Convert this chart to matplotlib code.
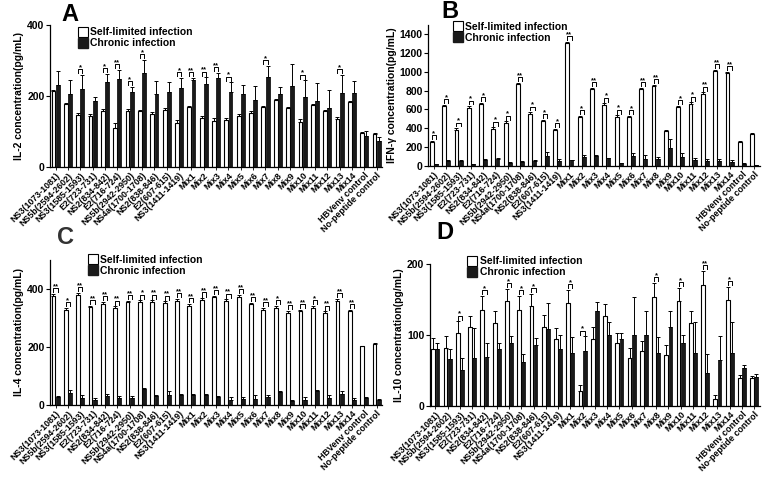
import numpy as np
import matplotlib
matplotlib.use("Agg")
import matplotlib.pyplot as plt
from matplotlib.lines import Line2D

plt.rcParams['font.family'] = ['Liberation Sans', 'DejaVu Sans']
plt.rcParams['font.weight'] = 'bold'

categories = ['NS3(1073-1081)', 'NS5b(2594-2602)', 'NS3(1585-1593)', 'E2(723-731)',
              'NS2(834-842)', 'E2(716-724)', 'NS5b(2942-2950)', 'NS4a(1700-1708)',
              'NS2(838-846)', 'E2(607-615)', 'NS3(1411-1419)',
              'Mix1', 'Mix2', 'Mix3', 'Mix4', 'Mix5', 'Mix6', 'Mix7', 'Mix8', 'Mix9',
              'Mix10', 'Mix11', 'Mix12', 'Mix13', 'Mix14',
              'HBVenv control', 'No-peptide control']

# ---------- IL-2 ----------
il2_self = [214, 177, 146, 144, 157, 109, 158, 156, 149, 161, 123, 168, 137, 130, 131,
            144, 153, 168, 188, 166, 127, 174, 156, 135, 184, 95, 93]
il2_self_err = [3, 3, 5, 5, 5, 15, 5, 5, 5, 5, 9, 3, 7, 7, 6, 5, 4, 3, 2, 3, 8, 3, 3, 6, 2, 4, 3]
il2_chronic = [230, 206, 218, 186, 238, 247, 212, 264, 206, 210, 222, 244, 234, 250, 210,
               206, 189, 254, 204, 229, 197, 186, 165, 207, 208, 87, 74]
il2_chronic_err = [41, 39, 41, 10, 24, 26, 13, 37, 36, 29, 28, 6, 18, 14, 28, 24, 38, 31,
                   20, 62, 47, 50, 52, 52, 33, 13, 11]
il2_stars = {2: '*', 4: '*', 5: '**', 6: '*', 7: '*', 10: '*', 11: '**', 12: '**',
             13: '**', 14: '*', 17: '*', 20: '*', 23: '*'}

# ---------- IFN-gamma ----------
ifn_self = [251, 634, 386, 620, 655, 396, 460, 867, 556, 478, 382, 1306, 517, 814, 651,
            524, 517, 814, 846, 368, 627, 662, 768, 1005, 988, 251, 336]
ifn_self_err = [15] * 27
ifn_chronic = [18, 53, 53, 21, 64, 78, 35, 46, 53, 106, 53, 60, 96, 103, 81, 32, 103, 74,
               74, 191, 96, 67, 57, 50, 39, 25, 11]
ifn_chronic_err = [3, 5, 5, 3, 5, 5, 3, 5, 5, 43, 25, 5, 24, 8, 5, 3, 39, 43, 22, 92, 46,
                   18, 17, 24, 25, 3, 2]
ifn_stars = {0: '*', 1: '*', 2: '*', 3: '*', 4: '*', 5: '*', 6: '*', 7: '**', 8: '*',
             9: '*', 10: '*', 11: '**', 12: '*', 13: '**', 14: '*', 15: '*', 16: '*',
             17: '**', 18: '**', 20: '*', 21: '*', 22: '**', 23: '**', 24: '**'}

# ---------- IL-4 ----------
il4_self = [377, 329, 381, 337, 349, 334, 354, 355, 355, 351, 359, 342, 362, 371, 358,
            374, 347, 329, 335, 318, 323, 335, 317, 360, 323, 202, 211]
il4_self_err = [6] * 25 + [2, 2]
il4_chronic = [26, 40, 24, 18, 31, 23, 24, 56, 30, 33, 35, 34, 35, 26, 18, 21, 21, 27,
               43, 14, 18, 49, 24, 37, 17, 24, 17]
il4_chronic_err = [3, 12, 10, 5, 8, 8, 8, 3, 5, 15, 4, 3, 3, 5, 10, 6, 12, 8, 4, 3, 8, 3,
                   10, 10, 8, 2, 2]
il4_stars = {i: '**' for i in range(25)}
il4_stars.update({1: '*', 7: '*', 18: '*', 21: '*'})

# ---------- IL-10 ----------
il10_self = [80, 82, 102, 111, 135, 116, 147, 135, 140, 111, 94, 145, 21, 94, 126, 89,
             68, 77, 154, 71, 147, 116, 170, 10, 149, 39, 39]
il10_self_err = [16, 17, 17, 16, 20, 17, 18, 20, 18, 17, 16, 18, 8, 17, 17, 14, 14, 15,
                 19, 15, 19, 17, 20, 5, 19, 4, 3]
il10_chronic = [80, 66, 51, 68, 69, 80, 88, 62, 86, 108, 80, 75, 77, 134, 100, 94, 100,
                100, 75, 111, 88, 74, 46, 65, 74, 53, 41]
il10_chronic_err = [9, 14, 16, 41, 20, 9, 11, 11, 9, 37, 20, 22, 21, 12, 18, 9, 54, 33,
                    22, 22, 12, 44, 27, 34, 44, 5, 4]
il10_stars = {2: '*', 4: '*', 6: '*', 7: '*', 8: '*', 11: '*', 12: '*', 18: '*',
              20: '*', 22: '**', 24: '*'}


def draw_panel(ax, white, white_err, black, black_err, stars, ymax, yticks, ylabel, legend_xy):
    x = np.arange(len(categories))
    w = 0.31
    off = 0.17
    ax.bar(x - off, white, w, color='white', edgecolor='black', linewidth=0.8, zorder=2)
    ax.bar(x + off, black, w, color='#1a1a1a', edgecolor='black', linewidth=0.5, zorder=2)
    zeros = np.zeros(len(x))
    ax.errorbar(x - off, white, yerr=[zeros, white_err], fmt='none', ecolor='black',
                elinewidth=0.7, capsize=1.5, capthick=0.7, zorder=1)
    ax.errorbar(x + off, black, yerr=[zeros, black_err], fmt='none', ecolor='black',
                elinewidth=0.7, capsize=1.5, capthick=0.7, zorder=1)

    # significance brackets
    for i, s in stars.items():
        top = max(white[i] + white_err[i], black[i] + black_err[i])
        y0 = top + ymax * 0.012
        h = ymax * 0.028
        ax.plot([i - off, i - off, i + off, i + off], [y0, y0 + h, y0 + h, y0],
                color='black', lw=0.7)
        ax.text(i, y0 + h * 0.5, s, ha='center', va='bottom', fontsize=5.5,
                fontweight='bold')

    ax.set_xlim(-0.45, len(categories) - 0.55)
    ax.set_ylim(0, ymax)
    ax.set_yticks(yticks)
    ax.tick_params(axis='y', labelsize=7.5, length=3, width=0.8, pad=1)
    ax.set_xticks(x)
    ax.set_xticklabels(categories, rotation=45, ha='right', rotation_mode='anchor',
                       fontsize=6.4, fontweight='bold')
    ax.tick_params(axis='x', length=2, width=0.6, pad=1)
    ax.spines['top'].set_visible(False)
    ax.spines['right'].set_visible(False)
    ax.spines['left'].set_linewidth(0.9)
    ax.spines['bottom'].set_linewidth(0.9)
    ax.set_ylabel(ylabel, fontsize=7.5, fontweight='bold', labelpad=2)

    handles = [Line2D([], [], marker='s', ls='none', markersize=7, markerfacecolor='white',
                      markeredgecolor='black', markeredgewidth=0.8),
               Line2D([], [], marker='s', ls='none', markersize=7, markerfacecolor='#1a1a1a',
                      markeredgecolor='#1a1a1a')]
    ax.legend(handles, ['Self-limited infection', 'Chronic infection'], loc='upper left',
              bbox_to_anchor=legend_xy, frameon=False, fontsize=7.5, handlelength=0.8,
              handletextpad=0.3, labelspacing=0.1, borderpad=0)


fig = plt.figure(figsize=(7.69, 4.78), dpi=100)
ax_a = fig.add_axes([0.065, 0.651, 0.432, 0.297])
ax_b = fig.add_axes([0.557, 0.653, 0.431, 0.295])
ax_c = fig.add_axes([0.065, 0.153, 0.432, 0.303])
ax_d = fig.add_axes([0.559, 0.151, 0.429, 0.297])

draw_panel(ax_a, il2_self, il2_self_err, il2_chronic, il2_chronic_err, il2_stars,
           400, [0, 200, 400], 'IL-2 concentration(pg/mL)', (0.07, 1.02))
draw_panel(ax_b, ifn_self, ifn_self_err, ifn_chronic, ifn_chronic_err, ifn_stars,
           1500, [0, 200, 400, 600, 800, 1000, 1200, 1400], 'IFN-γ concentration(pg/mL)',
           (0.06, 1.06))
draw_panel(ax_c, il4_self, il4_self_err, il4_chronic, il4_chronic_err, il4_stars,
           500, [0, 200, 400], 'IL-4 concentration(pg/mL)', (0.1, 1.07))
draw_panel(ax_d, il10_self, il10_self_err, il10_chronic, il10_chronic_err, il10_stars,
           200, [0, 100, 200], 'IL-10 concentration(pg/mL)', (0.1, 1.09))

fig.text(0.091, 0.97, 'A', fontsize=17, fontweight='bold', ha='center', va='center')
fig.text(0.585, 0.975, 'B', fontsize=17, fontweight='bold', ha='center', va='center')
fig.text(0.085, 0.504, 'C', fontsize=17, fontweight='bold', ha='center', va='center',
         color='#333333')
fig.text(0.578, 0.513, 'D', fontsize=17, fontweight='bold', ha='center', va='center')

fig.savefig('out.png', dpi=100)
